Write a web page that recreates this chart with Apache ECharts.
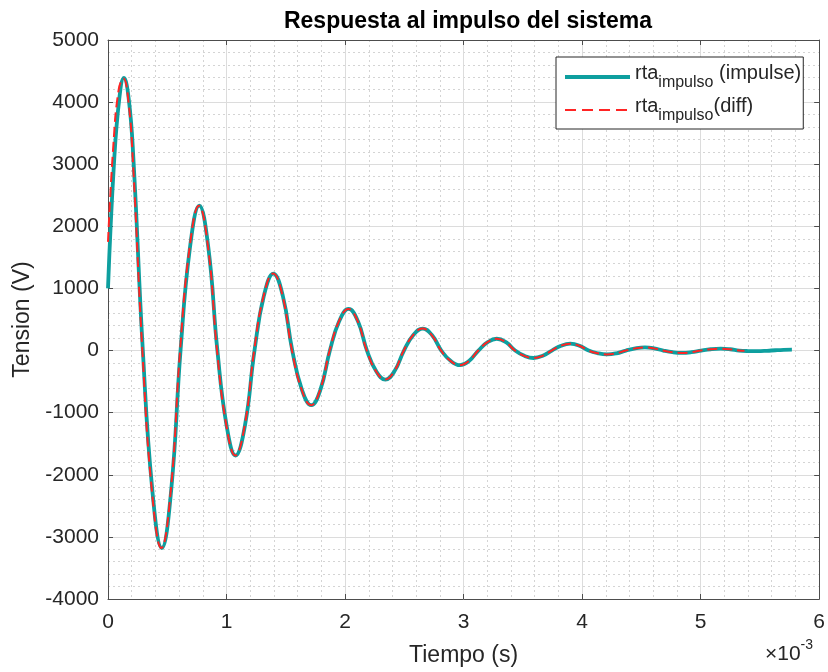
<!DOCTYPE html>
<html>
<head>
<meta charset="utf-8">
<script src="https://cdn.jsdelivr.net/npm/echarts@6/dist/echarts.min.js"></script>
<style>html,body{margin:0;padding:0;background:#fff}#c{width:828px;height:672px}</style>
</head>
<body>
<div id="c"></div>
<script>
// time in ms (axis shows x10^-3 s)
const tealTime = [0.000,0.050,0.095,0.134,0.175,0.214,0.294,0.374,0.454,0.533,0.612,0.691,0.770,0.847,0.923,1.000,1.076,1.156,1.236,1.315,1.395,1.475,1.555,1.635,1.715,1.793,1.872,1.951,2.030,2.108,2.185,2.262,2.340,2.418,2.497,2.576,2.655,2.733,2.812,2.890,2.970,3.048,3.125,3.203,3.280,3.358,3.435,3.513,3.590,3.668,3.745,3.823,3.900,3.978,4.055,4.133,4.210,4.290,4.370,4.450,4.530,4.608,4.685,4.763,4.840,4.922,5.005,5.085,5.170,5.248,5.325,5.400,5.480,5.560,5.630,5.700,5.770];
const tealVolt = [1000,3000,4050,4390,4050,3100,0,-2250,-3180,-2250,0,1650,2335,1650,0,-1200,-1690,-1200,0,880,1240,880,0,-625,-880,-625,0,475,670,475,0,-330,-467,-330,0,250,354,250,0,-165,-235,-165,0,135,190,135,0,-85,-120,-85,0,78,110,78,0,-44,-62,-44,0,35,50,35,0,-27,-38,-27,0,21,30,21,0,-8,-10,-4,5,12,15];
const redTime = [0.000,0.045,0.090,0.130,0.172,0.210,0.290,0.370,0.450,0.530,0.608,0.688,0.767,0.845,0.920,0.998,1.074,1.154,1.233,1.313,1.393,1.473,1.552,1.633,1.713,1.791,1.870,1.949,2.028,2.106,2.183,2.260,2.338,2.416,2.495,2.574,2.653,2.731,2.810,2.888,2.968,3.046,3.123,3.201,3.278,3.356,3.433,3.511,3.588,3.666,3.743,3.821,3.898,3.976,4.053,4.131,4.208,4.288,4.368,4.448,4.528,4.606,4.683,4.761,4.838,4.920,5.003,5.083,5.168,5.246,5.323,5.370];
const redVolt = [1750,3300,4200,4380,4020,3050,0,-2250,-3180,-2250,0,1650,2330,1650,0,-1200,-1690,-1200,0,880,1240,880,0,-625,-880,-625,0,475,670,475,0,-330,-467,-330,0,250,354,250,0,-165,-235,-165,0,135,190,135,0,-85,-120,-85,0,78,110,78,0,-44,-62,-44,0,35,50,35,0,-27,-38,-27,0,21,30,21,0,-4];
const xTicks = [0,1,2,3,4,5,6];
const yTicks = [-4000,-3000,-2000,-1000,0,1000,2000,3000,4000,5000];

const pairs = (t, v) => t.map((x, i) => [x, v[i]]);
const font = 'Liberation Sans, Arial, Helvetica, sans-serif';
const txt = '#262626';
const teal = '#0e9f9f';
const red = '#ff2424';
const chart = echarts.init(document.getElementById('c'), null, {renderer: 'canvas'});

const axisCommon = {
  axisLine: {show: true, onZero: false, lineStyle: {color: '#4d4d4d', width: 1}},
  axisTick: {show: true, inside: true, length: 5, lineStyle: {color: '#4d4d4d'}},
  minorTick: {show: false, splitNumber: 5}
};

chart.setOption({
  backgroundColor: '#fff',
  animation: false,
  title: {
    text: 'Respuesta al impulso del sistema',
    left: 463, top: 5, textAlign: 'center',
    textStyle: {fontFamily: font, fontSize: 23, fontWeight: 'bold', color: '#000'}
  },
  grid: {left: 108, right: 6, top: 40, bottom: 73, containLabel: false},
  legend: {
    orient: 'vertical', left: 556, top: 57,
    padding: [6, 2, 5, 7],
    itemGap: 5,
    itemWidth: 65, itemHeight: 14,
    itemStyle: {opacity: 0},
    backgroundColor: '#fff',
    borderColor: '#262626', borderWidth: 1,
    borderRadius: 0,
    data: [
      {name: 'impulse', lineStyle: {color: teal, width: 4}},
      {name: 'diff', lineStyle: {color: red, width: 2, type: [11, 6]}}
    ],
    formatter: function (n) {
      return n === 'impulse'
        ? '{a|rta}{b|impulso}{a| (impulse)}'
        : '{a|rta}{b|impulso}{a|(diff)}';
    },
    textStyle: {
      fontFamily: font, color: txt,
      rich: {
        a: {fontFamily: font, fontSize: 20, color: txt, lineHeight: 24, padding: [0, 0, 8, 0]},
        b: {fontFamily: font, fontSize: 16, color: txt, lineHeight: 24, padding: [12, 0, 0, 0]}
      }
    }
  },
  xAxis: [
    Object.assign({}, axisCommon, {
      type: 'value', min: 0, max: 6, interval: 1, position: 'bottom',
      name: 'Tiempo (s)', nameLocation: 'middle', nameGap: 45,
      nameTextStyle: {fontFamily: font, fontSize: 23, color: txt},
      axisLabel: {fontFamily: font, fontSize: 21, color: txt, margin: 13,
        formatter: v => xTicks.includes(v) ? String(v) : ''},
      splitLine: {show: true, lineStyle: {color: '#dcdcdc', width: 1}},
      minorSplitLine: {show: true, lineStyle: {color: '#d4d4d4', width: 1, type: [2, 3]}}
    }),
    Object.assign({}, axisCommon, {
      type: 'value', min: 0, max: 6, interval: 1, position: 'top',
      axisLabel: {show: false}, splitLine: {show: false}
    })
  ],
  yAxis: [
    Object.assign({}, axisCommon, {
      type: 'value', min: -4000, max: 5000, interval: 1000, position: 'left',
      name: 'Tension (V)', nameLocation: 'middle', nameGap: 63, nameRotate: 90,
      nameTextStyle: {fontFamily: font, fontSize: 23, color: txt},
      axisLabel: {fontFamily: font, fontSize: 21, color: txt, margin: 9,
        formatter: v => yTicks.includes(v) ? String(v) : ''},
      splitLine: {show: true, lineStyle: {color: '#dcdcdc', width: 1}},
      minorSplitLine: {show: true, lineStyle: {color: '#d4d4d4', width: 1, type: [2, 3]}}
    }),
    Object.assign({}, axisCommon, {
      type: 'value', min: -4000, max: 5000, interval: 1000, position: 'right',
      axisLabel: {show: false}, splitLine: {show: false}
    })
  ],
  series: [
    {
      name: 'impulse', type: 'line', xAxisIndex: 0, yAxisIndex: 0,
      data: pairs(tealTime, tealVolt),
      smooth: 0.45, symbol: 'none',
      lineStyle: {color: teal, width: 3.8},
      itemStyle: {color: teal}
    },
    {
      name: 'diff', type: 'line', xAxisIndex: 0, yAxisIndex: 0,
      data: pairs(redTime, redVolt),
      smooth: 0.45, symbol: 'none',
      lineStyle: {color: red, width: 2, type: [10, 5]},
      itemStyle: {color: red}
    }
  ],
  graphic: [{
    type: 'text', left: 765, top: 638,
    style: {
      text: '{m|×10}{s|-3}',
      rich: {
        m: {fontFamily: font, fontSize: 21, fill: txt, padding: [8, 0, 0, 0]},
        s: {fontFamily: font, fontSize: 14, fill: txt, padding: [0, 0, 10, 0]}
      }
    }
  }]
});
</script>
</body>
</html>
